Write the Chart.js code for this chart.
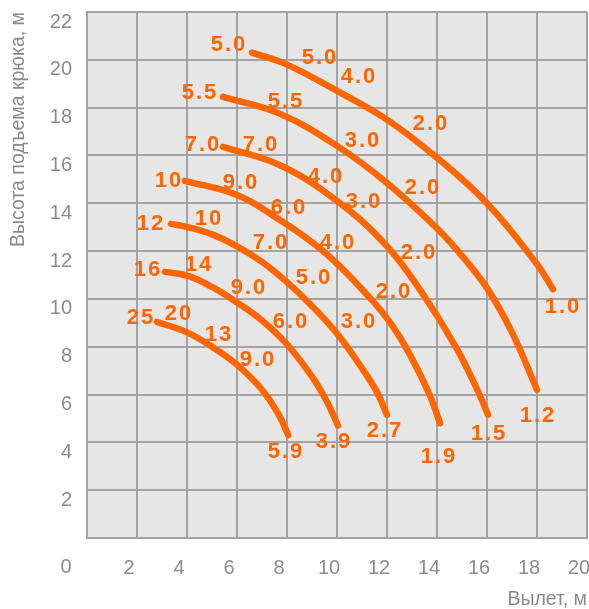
<!DOCTYPE html>
<html>
<head>
<meta charset="utf-8">
<script src="https://cdn.jsdelivr.net/npm/chart.js@4.4.0/dist/chart.umd.min.js"></script>
<style>
html, body { margin: 0; padding: 0; background: #fff; }
</style>
</head>
<body>
<canvas id="graph1" width="589" height="609"></canvas>
<script>
// оси
var xTicks = [0, 2, 4, 6, 8, 10, 12, 14, 16, 18, 20];
var yTicks = [0, 2, 4, 6, 8, 10, 12, 14, 16, 18, 20, 22];

// кривые: вылет (x) и высота подъема (y)
var c1x = [6.6, 8, 10, 12, 14, 16, 18, 18.64];
var c1y = [20.3, 19.8, 18.7, 17.5, 15.9, 14.0, 11.45, 10.4];
var c2x = [5.44, 7.7, 10, 12, 14, 15, 16, 17, 18];
var c2y = [18.45, 17.75, 16.4, 14.85, 12.95, 11.8, 10.45, 8.6, 6.2];
var c3x = [5.44, 7.7, 10, 12, 13.5, 14.8, 15.7, 16.04];
var c3y = [16.36, 15.6, 14.1, 12.2, 10.1, 7.9, 6.0, 5.15];
var c4x = [3.92, 6, 7.5, 9.5, 11.4, 12.2, 12.9, 13.7, 14.12];
var c4y = [14.94, 14.35, 13.45, 11.95, 9.95, 8.9, 7.7, 6.0, 4.8];
var c5x = [3.36, 4.04, 5, 6, 7, 8, 9, 10, 11, 11.6, 12];
var c5y = [13.14, 13.0, 12.7, 12.2, 11.55, 10.7, 9.7, 8.55, 7.1, 6.1, 5.15];
var c6x = [3.12, 4.04, 5, 6, 7, 8, 9, 9.6, 10.04];
var c6y = [11.13, 10.96, 10.5, 9.85, 9.1, 8.1, 6.75, 5.7, 4.7];
var c7x = [2.8, 4.0, 5.0, 6.0, 7.0, 7.7, 8.05];
var c7y = [9.04, 8.6, 8.0, 7.25, 6.2, 5.1, 4.3];

// грузоподъемность, т, и где стоит подпись (x, y)
var c1q = ['5.0', '5.0', '4.0', '2.0', '1.0'];
var c1qp = [[5.64, 20.63], [9.28, 20.08], [10.84, 19.29], [13.72, 17.32], [19.0, 9.67]];
var c2q = ['5.5', '5.5', '3.0', '2.0', '1.2'];
var c2qp = [[4.48, 18.62], [7.92, 18.24], [11.0, 16.61], [13.4, 14.64], [18.0, 5.1]];
var c3q = ['7.0', '7.0', '4.0', '3.0', '2.0', '1.5'];
var c3qp = [[4.6, 16.44], [6.92, 16.44], [9.52, 15.1], [11.04, 14.06], [13.24, 11.92], [16.04, 4.35]];
var c4q = ['10', '9.0', '6.0', '4.0', '2.0', '1.9'];
var c4qp = [[3.24, 14.94], [6.12, 14.85], [8.04, 13.81], [10.0, 12.34], [12.24, 10.29], [14.04, 3.39]];
var c5q = ['12', '10', '7.0', '5.0', '3.0', '2.7'];
var c5qp = [[2.52, 13.14], [4.84, 13.35], [7.32, 12.34], [9.04, 10.88], [10.84, 9.04], [11.88, 4.48]];
var c6q = ['16', '14', '9.0', '6.0', '3.9'];
var c6qp = [[2.4, 11.21], [4.44, 11.42], [6.44, 10.46], [8.12, 9.04], [9.84, 4.02]];
var c7q = ['25', '20', '13', '9.0', '5.9'];
var c7qp = [[2.12, 9.2], [3.64, 9.37], [5.24, 8.49], [6.8, 7.45], [7.92, 3.6]];

var orange = '#ff6600';
var tickColor = '#8c8c8c';
var gridColor = '#a3a3a3';
var titleFont = { size: 19.5, family: '"Liberation Sans Narrow", "Liberation Sans", Arial, sans-serif', lineHeight: 1 };

function pts(xs, ys) {
  var out = [];
  for (let i = 0; i < xs.length; i++) out.push({x: xs[i], y: ys[i]});
  return out;
}

var curves = [[c1x, c1y], [c2x, c2y], [c3x, c3y], [c4x, c4y], [c5x, c5y], [c6x, c6y], [c7x, c7y]];
var loads = [[c1q, c1qp], [c2q, c2qp], [c3q, c3qp], [c4q, c4qp], [c5q, c5qp], [c6q, c6qp], [c7q, c7qp]];

var datasets = [];
for (let i = 0; i < curves.length; i++) {
  datasets.push({
    data: pts(curves[i][0], curves[i][1]),
    showLine: true,
    borderColor: orange,
    borderWidth: 6.5,
    borderCapStyle: 'round',
    tension: 0.4,
    pointRadius: 0,
    fill: false
  });
}

// фон поля графика
var bgPlugin = {
  id: 'bg',
  beforeDraw: function(chart) {
    var a = chart.chartArea;
    var ctx = chart.ctx;
    ctx.save();
    ctx.fillStyle = '#e6e6e6';
    ctx.fillRect(a.left, a.top, a.right - a.left, a.bottom - a.top);
    ctx.restore();
  }
};

// подписи грузоподъемности на кривых
var loadPlugin = {
  id: 'loads',
  afterDatasetsDraw: function(chart) {
    var ctx = chart.ctx;
    var xs = chart.scales.x, ys = chart.scales.y;
    ctx.save();
    ctx.fillStyle = orange;
    ctx.font = 'bold 22px "Liberation Sans", Arial, sans-serif';
    ctx.letterSpacing = '2px';
    ctx.textAlign = 'center';
    ctx.textBaseline = 'middle';
    for (let i = 0; i < loads.length; i++) {
      var t = loads[i][0], p = loads[i][1];
      for (let j = 0; j < t.length; j++) {
        ctx.fillText(t[j], xs.getPixelForValue(p[j][0]) + 1, ys.getPixelForValue(p[j][1]));
      }
    }
    ctx.restore();
  }
};

// ноль в углу
var originPlugin = {
  id: 'origin',
  afterDraw: function(chart) {
    var ctx = chart.ctx;
    var a = chart.chartArea;
    ctx.save();
    ctx.fillStyle = tickColor;
    ctx.font = '20px "Liberation Sans", Arial, sans-serif';
    ctx.textAlign = 'center';
    ctx.textBaseline = 'middle';
    ctx.fillText('0', a.left - 21, a.bottom + 29);
    ctx.restore();
  }
};

document.addEventListener('DOMContentLoaded', function() {
  var ctx = document.querySelector('#graph1').getContext('2d');
  new Chart(ctx, {
    type: 'scatter',
    data: { datasets: datasets },
    options: {
      responsive: false,
      animation: false,
      layout: { padding: { top: 12, right: 2, left: 0, bottom: 0 } },
      plugins: { legend: { display: false }, tooltip: { enabled: false } },
      scales: {
        x: {
          type: 'linear',
          min: 0, max: 20,
          afterBuildTicks: function(s) { s.ticks = xTicks.map(function(v) { return {value: v}; }); },
          afterFit: function(s) { s.height = 71; s.paddingLeft = 0; s.paddingRight = 0; },
          grid: { color: gridColor, lineWidth: 2, drawTicks: false },
          border: { color: gridColor, width: 2 },
          ticks: {
            color: tickColor,
            font: { size: 20, family: '"Liberation Sans", Arial, sans-serif' },
            padding: 18,
            labelOffset: -8,
            maxRotation: 0,
            callback: function(v) { return v === 0 ? '' : String(v); }
          },
          title: {
            display: true,
            text: 'Вылет, м',
            align: 'end',
            color: '#8a8a8a',
            font: titleFont,
            padding: { top: 0, bottom: 0 }
          }
        },
        y: {
          type: 'linear',
          min: 0, max: 22,
          afterBuildTicks: function(s) { s.ticks = yTicks.map(function(v) { return {value: v}; }); },
          afterFit: function(s) { s.width = 87; s.paddingTop = 0; s.paddingBottom = 0; },
          grid: { color: gridColor, lineWidth: 2, drawTicks: false },
          border: { color: gridColor, width: 2 },
          ticks: {
            color: tickColor,
            font: { size: 20, family: '"Liberation Sans", Arial, sans-serif' },
            padding: 15,
            labelOffset: 10,
            callback: function(v) { return v === 0 ? '' : String(v); }
          },
          title: {
            display: true,
            text: 'Высота подъема крюка, м',
            align: 'end',
            color: '#8a8a8a',
            font: titleFont,
            padding: { top: 9, bottom: 0 }
          }
        }
      }
    },
    plugins: [bgPlugin, loadPlugin, originPlugin]
  });
});
</script>
</body>
</html>
